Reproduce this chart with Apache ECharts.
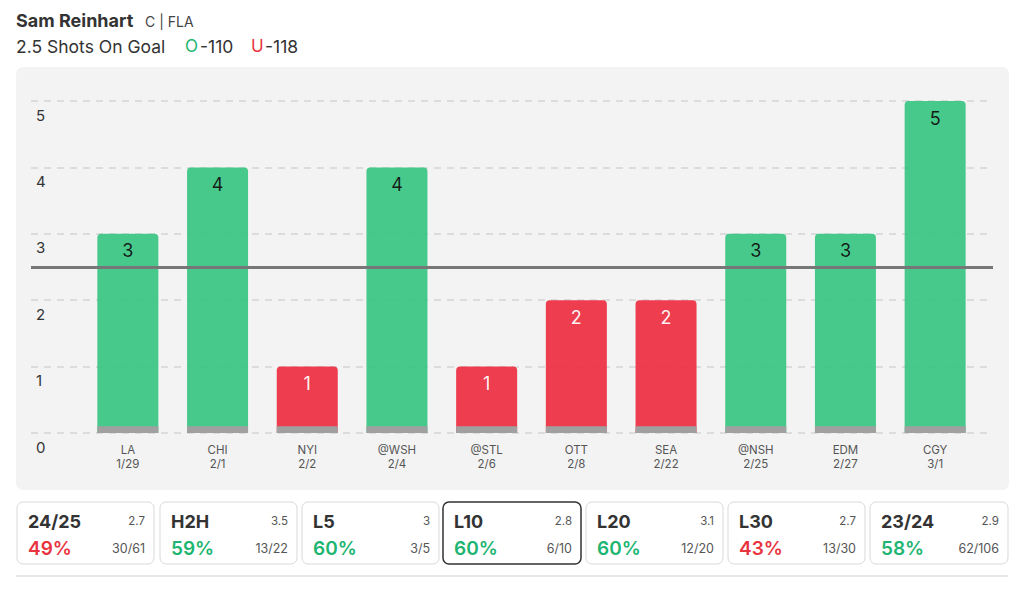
<!DOCTYPE html>
<html><head><meta charset="utf-8">
<script src="https://cdn.jsdelivr.net/npm/echarts@6/dist/echarts.min.js"></script>
<style>html,body{margin:0;padding:0;background:#fff}#c{width:1024px;height:589px}</style>
</head><body><div id="c"></div>
<script>
const teams = ['LA','CHI','NYI','@WSH','@STL','OTT','SEA','@NSH','EDM','CGY'];
const dates = ['1/29','2/1','2/2','2/4','2/6','2/8','2/22','2/25','2/27','3/1'];
const shots = [3,4,1,4,1,2,2,3,3,5];
const propLine = 2.5;
const yTicks = [0,1,2,3,4,5];
const cardLabels = ['24/25','H2H','L5','L10','L20','L30','23/24'];
const cardAvg = ['2.7','3.5','3','2.8','3.1','2.7','2.9'];
const cardPct = ['49%','59%','60%','60%','60%','43%','58%'];
const cardHits = ['30/61','13/22','3/5','6/10','12/20','13/30','62/106'];
const cardOver = [false,true,true,true,true,false,true];
const selectedCard = 'L10';

const GREEN='#3cc685', RED='#ec3143', PGREEN='#1db571', PRED='#e8343f';
const FONT='Inter, "Noto Sans", sans-serif';

const chart = echarts.init(document.getElementById('c'), null, {renderer:'svg'});

const graphics = [
  {type:'rect', shape:{x:16,y:67,width:993,height:423,r:7}, style:{fill:'#f3f3f3'}, z:-10, silent:true},
  {type:'text', x:16, y:20, style:{text:'Sam Reinhart', font:'bold 18px '+FONT, fill:'#333', verticalAlign:'middle'}},
  {type:'text', x:145, y:21, style:{text:'C | FLA', font:'14px '+FONT, fill:'#444', verticalAlign:'middle'}},
  {type:'text', x:16, y:46, style:{text:'2.5 Shots On Goal', font:'17.5px '+FONT, fill:'#333', verticalAlign:'middle'}},
  {type:'text', x:185, y:46, style:{text:'O', font:'17px '+FONT, fill:PGREEN, verticalAlign:'middle'}},
  {type:'text', x:200, y:46, style:{text:'-110', font:'17.5px '+FONT, fill:'#333', verticalAlign:'middle'}},
  {type:'text', x:251, y:46, style:{text:'U', font:'17px '+FONT, fill:PRED, verticalAlign:'middle'}},
  {type:'text', x:265, y:46, style:{text:'-118', font:'17.5px '+FONT, fill:'#333', verticalAlign:'middle'}},
  {type:'rect', shape:{x:16,y:575,width:992,height:2}, style:{fill:'#e6e6e6'}}
];
const cardStarts=[17,160,302,443,586,728,870];
cardLabels.forEach((lab,i)=>{
  const x=cardStarts[i], w=(i===3||i===6)?138:137, y=502, h=62;
  const sel = lab===selectedCard;
  graphics.push({type:'rect', shape:{x:x,y:y,width:w,height:h,r:6},
    style:{fill:'#fff', stroke: sel?'#333':'#d9d9d9', lineWidth: sel?1.5:1}});
  graphics.push({type:'text', x:x+11, y:521, style:{text:lab, font:'bold 18px '+FONT, fill:'#333', verticalAlign:'middle'}});
  graphics.push({type:'text', x:x+w-9, y:521, style:{text:cardAvg[i], font:'11.5px '+FONT, fill:'#555', align:'right', verticalAlign:'middle'}});
  graphics.push({type:'text', x:x+11, y:548, style:{text:cardPct[i], font:'600 19px '+FONT, fill:cardOver[i]?PGREEN:PRED, verticalAlign:'middle'}});
  graphics.push({type:'text', x:x+w-9, y:548, style:{text:cardHits[i], font:'12.5px '+FONT, fill:'#555', align:'right', verticalAlign:'middle'}});
});

const option = {
  animation:false,
  textStyle:{fontFamily:FONT},
  graphic: graphics,
  grid:[
    {left:31, right:31, top:101, bottom:156},
    {left:83, right:44, top:101, bottom:156}
  ],
  xAxis:[
    {gridIndex:0, type:'value', min:0, max:1, show:false},
    {gridIndex:1, type:'category', data:teams.map((t,i)=>t+'\n'+dates[i]),
     axisLine:{show:false}, axisTick:{show:false},
     axisLabel:{fontSize:11.5, lineHeight:14, color:'#555', margin:10, fontFamily:FONT}}
  ],
  yAxis:[
    {gridIndex:0, type:'value', min:yTicks[0], max:yTicks[yTicks.length-1], interval:1,
     axisLine:{show:false}, axisTick:{show:false},
     splitLine:{show:true, lineStyle:{color:'#dcdcdc', type:[7,6], width:2}},
     axisLabel:{inside:true, margin:5, fontSize:15, color:'#333', verticalAlign:'top', lineHeight:16, padding:[6,0,0,0], fontFamily:FONT}},
    {gridIndex:1, type:'value', min:yTicks[0], max:yTicks[yTicks.length-1], interval:1, show:false, splitLine:{show:false}}
  ],
  series:[
    {type:'line', xAxisIndex:0, yAxisIndex:0, data:[], z:1,
     markLine:{silent:true, symbol:'none', label:{show:false},
       lineStyle:{color:'#777', width:3, type:'solid'},
       data:[{yAxis:propLine}]}},
    {type:'bar', xAxisIndex:1, yAxisIndex:1, barWidth:61, z:3,
     data: shots.map(v=>({value:v, itemStyle:{color: v>propLine?GREEN:RED},
       label:{color: v>propLine?'#111':'#fff'}})),
     itemStyle:{borderRadius:[4,4,0,0], opacity:0.94},
     label:{show:true, position:'insideTop', distance:8, fontSize:18, fontFamily:FONT,
       formatter:p=>String(p.value)}},
    {type:'bar', xAxisIndex:1, yAxisIndex:1, barWidth:61, barGap:'-100%', z:4,
     data: shots.map(()=>0.1), itemStyle:{color:'#a0a0a0'}, silent:true}
  ]
};
chart.setOption(option);
</script></body></html>
